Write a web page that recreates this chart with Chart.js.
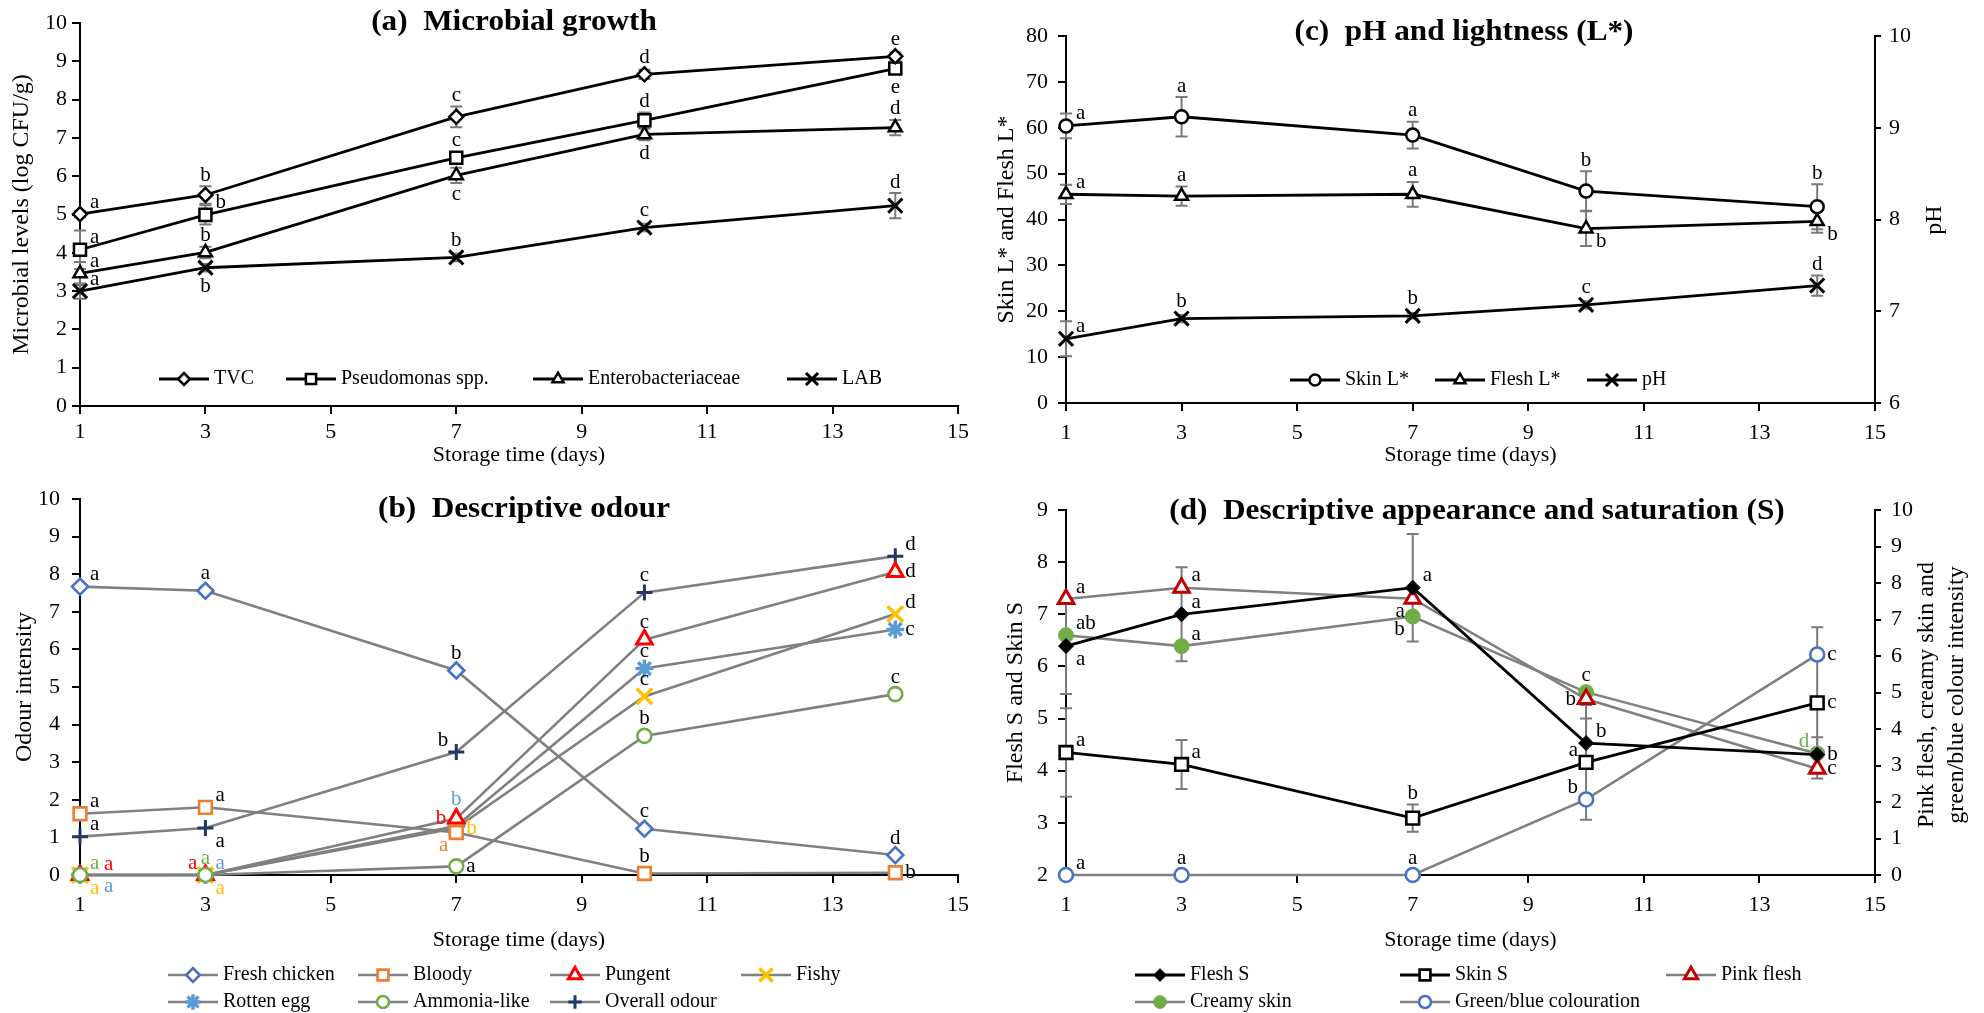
<!DOCTYPE html>
<html>
<head>
<meta charset="utf-8">
<title>Storage quality of chicken</title>
<script src="https://cdn.jsdelivr.net/npm/chart.js@4.4.1/dist/chart.umd.min.js"></script>
<style>
  html, body { margin:0; padding:0; background:#ffffff; }
  body { width:1984px; height:1013px; position:relative; overflow:hidden; }
  canvas { position:absolute; display:block; }
</style>
</head>
<body>
<canvas id="chartA" width="992" height="470" style="left:0;top:0"></canvas>
<canvas id="chartC" width="992" height="470" style="left:992px;top:0"></canvas>
<canvas id="chartB" width="992" height="543" style="left:0;top:470px"></canvas>
<canvas id="chartD" width="992" height="543" style="left:992px;top:470px"></canvas>
<script>
// ================= DATA =================
const days = [1, 3, 7, 10, 14];

// (a) Microbial growth (log CFU/g)
const tvc       = [5.01, 5.51, 7.55, 8.66, 9.13];
const tvcSd     = [0.08, 0.23, 0.27, 0.12, 0.10];
const tvcSig    = ['a', 'b', 'c', 'd', 'e'];
const pseudo    = [4.08, 4.99, 6.48, 7.46, 8.81];
const pseudoSd  = [0.50, 0.25, 0.15, 0.20, 0.12];
const pseudoSig = ['a', 'b', 'c', 'd', 'e'];
const entero    = [3.46, 4.01, 6.02, 7.09, 7.27];
const enteroSd  = [0.30, 0.15, 0.20, 0.15, 0.20];
const enteroSig = ['a', 'b', 'c', 'd', 'd'];
const lab       = [3.00, 3.61, 3.88, 4.66, 5.23];
const labSd     = [0.20, 0.10, 0.10, 0.10, 0.33];
const labSig    = ['a', 'b', 'b', 'c', 'd'];

// (c) pH and lightness
const skinL     = [60.4, 62.4, 58.4, 46.2, 42.8];
const skinLSd   = [2.7, 4.3, 2.9, 4.3, 4.9];
const skinLSig  = ['a', 'a', 'a', 'b', 'b'];
const fleshL    = [45.5, 45.1, 45.5, 38.0, 39.6];
const fleshLSd  = [2.1, 2.1, 2.7, 3.8, 2.5];
const fleshLSig = ['a', 'a', 'a', 'b', 'b'];
const ph        = [6.70, 6.92, 6.95, 7.07, 7.28];
const phSd      = [0.19, 0.04, 0.03, 0.04, 0.11];
const phSig     = ['a', 'b', 'b', 'c', 'd'];

// (b) Descriptive odour
const freshChicken = [7.67, 7.56, 5.44, 1.23, 0.53];
const freshSig     = ['a', 'a', 'b', 'c', 'd'];
const bloody       = [1.63, 1.80, 1.13, 0.04, 0.06];
const bloodySig    = ['a', 'a', 'a', 'b', 'b'];
const pungent      = [0, 0, 1.50, 6.26, 8.06];
const pungentSig   = ['a', 'a', 'b', 'c', 'd'];
const fishy        = [0, 0, 1.25, 4.75, 6.94];
const fishySig     = ['a', 'a', 'b', 'c', 'd'];
const rottenEgg    = [0, 0, 1.30, 5.49, 6.53];
const rottenSig    = ['a', 'a', 'b', 'c', 'c'];
const ammonia      = [0, 0, 0.23, 3.70, 4.81];
const ammoniaSig   = ['a', 'a', 'a', 'b', 'c'];
const overall      = [1.02, 1.25, 3.27, 7.51, 8.48];
const overallSig   = ['a', 'a', 'b', 'c', 'd'];

// (d) Descriptive appearance and saturation
const fleshS       = [6.39, 7.00, 7.51, 4.53, 4.31];
const fleshSSd     = [0.92, 0.90, 1.03, 0.47, 0.33];
const fleshSSig    = ['a', 'a', 'a', 'b', 'b'];
const skinS        = [4.35, 4.12, 3.09, 4.16, 5.30];
const skinSSd      = [0.85, 0.47, 0.26, 1.10, 1.45];
const skinSSig     = ['a', 'a', 'b', 'a', 'c'];
const pinkFlesh    = [7.56, 7.87, 7.57, 4.82, 2.91];
const pinkSig      = ['a', 'a', 'a', 'b', 'c'];
const creamySkin   = [6.57, 6.27, 7.08, 5.01, 3.33];
const creamySig    = ['ab', 'a', 'b', 'c', 'd'];
const greenBlue    = [0, 0, 0, 2.07, 6.04];
const greenBlueSig = ['a', 'a', 'a', 'b', 'c'];

// ================= STYLE / LAYOUT =================
const F = '"Liberation Serif","Times New Roman",serif';
Chart.defaults.font.family = F;
Chart.defaults.color = '#000';

const C_BLUE = '#4472C4', C_ORANGE = '#ED7D31', C_RED = '#FF0000', C_YELLOW = '#FFC000',
      C_LBLUE = '#5B9BD5', C_GREEN = '#70AD47', C_NAVY = '#203864', C_DRED = '#C00000',
      C_GREY = '#808080', C_ERR = '#7a7a7a';

// letter placement codes relative to the point
const OFF = {
  n:   {dx: 0,   dy: -17, a: 'center'},
  n2:  {dx: 0,   dy: -27, a: 'center'},
  s:   {dx: 0,   dy: 19,  a: 'center'},
  e:   {dx: 10,  dy: 0,   a: 'left'},
  w:   {dx: -10, dy: 0,   a: 'right'},
  ne:  {dx: 10,  dy: -12, a: 'left'},
  nw:  {dx: -8,  dy: -12, a: 'right'},
  se:  {dx: 10,  dy: 13,  a: 'left'},
  sw:  {dx: -8,  dy: 13,  a: 'right'},
  ne2: {dx: 24,  dy: -11, a: 'left'},
  se2: {dx: 24,  dy: 11,  a: 'left'}
};

const pts = arr => days.map((d, i) => ({x: d, y: arr[i]}));

function ds(label, values, st, extra) {
  return Object.assign({
    label: label, data: pts(values),
    borderColor: st.line, borderWidth: st.lw,
    pointStyle: st.ps, pointRadius: st.r, pointHoverRadius: st.r,
    pointBackgroundColor: st.fill, pointBorderColor: st.stroke, pointBorderWidth: st.pbw,
    tension: 0, clip: false, fill: false
  }, extra || {});
}

function myDrawPoint(ctx, o, x, y) {
  const r = o.radius;
  ctx.beginPath();
  switch (o.pointStyle) {
    case 'rectRot': ctx.moveTo(x - r, y); ctx.lineTo(x, y - r); ctx.lineTo(x + r, y); ctx.lineTo(x, y + r); ctx.closePath(); break;
    case 'rect': { const s = r * Math.SQRT1_2; ctx.rect(x - s, y - s, 2 * s, 2 * s); break; }
    case 'triangle': ctx.moveTo(x, y - r); ctx.lineTo(x + r * 0.866, y + r / 2); ctx.lineTo(x - r * 0.866, y + r / 2); ctx.closePath(); break;
    case 'crossRot': { const s = r * Math.SQRT1_2; ctx.moveTo(x - s, y - s); ctx.lineTo(x + s, y + s); ctx.moveTo(x - s, y + s); ctx.lineTo(x + s, y - s); break; }
    case 'cross': ctx.moveTo(x, y - r); ctx.lineTo(x, y + r); ctx.moveTo(x - r, y); ctx.lineTo(x + r, y); break;
    case 'star': { const s = r * Math.SQRT1_2; ctx.moveTo(x, y - r); ctx.lineTo(x, y + r); ctx.moveTo(x - r, y); ctx.lineTo(x + r, y);
      ctx.moveTo(x - s, y - s); ctx.lineTo(x + s, y + s); ctx.moveTo(x - s, y + s); ctx.lineTo(x + s, y - s); break; }
    default: ctx.arc(x, y, r, 0, Math.PI * 2);
  }
  ctx.fill();
  if (o.borderWidth > 0) ctx.stroke();
}
const drawPt = (Chart.helpers && Chart.helpers.drawPoint) ? Chart.helpers.drawPoint : myDrawPoint;

function makeDecor(cfg) {
  return {
    id: 'decor',
    beforeDatasetsDraw(chart) {
      const ctx = chart.ctx;
      chart.data.datasets.forEach((d, i) => {
        if (!d.sd) return;
        const meta = chart.getDatasetMeta(i);
        const ys = chart.scales[d.yAxisID || 'y'];
        ctx.save();
        ctx.strokeStyle = C_ERR; ctx.lineWidth = 2;
        meta.data.forEach((p, j) => {
          const e = d.sd[j]; if (!e) return;
          const v = d.data[j].y;
          const t = ys.getPixelForValue(v + e), b = ys.getPixelForValue(v - e);
          ctx.beginPath();
          ctx.moveTo(p.x, t); ctx.lineTo(p.x, b);
          ctx.moveTo(p.x - 6, t); ctx.lineTo(p.x + 6, t);
          ctx.moveTo(p.x - 6, b); ctx.lineTo(p.x + 6, b);
          ctx.stroke();
        });
        ctx.restore();
      });
    },
    afterDatasetsDraw(chart) {
      const ctx = chart.ctx;
      ctx.save();
      ctx.font = '21px ' + F;
      ctx.textBaseline = 'middle';
      chart.data.datasets.forEach((d, i) => {
        if (!d.sig) return;
        const meta = chart.getDatasetMeta(i);
        const ys = chart.scales[d.yAxisID || 'y'];
        meta.data.forEach((p, j) => {
          const code = d.sigPos[j];
          const o = OFF[code];
          let x = p.x + o.dx, y = p.y + o.dy;
          const e = d.sd ? d.sd[j] : 0;
          if (e && (code === 'n' || code === 'n2')) y = Math.min(y, ys.getPixelForValue(d.data[j].y + e) - 11);
          if (e && code === 's') y = Math.max(y, ys.getPixelForValue(d.data[j].y - e) + 11);
          ctx.textAlign = o.a;
          ctx.fillStyle = (d.sigColor && d.sigColor[j]) || '#000';
          ctx.fillText(d.sig[j], x, y);
        });
      });
      ctx.restore();
    },
    afterDraw(chart) {
      const ctx = chart.ctx;
      ctx.save();
      // panel title
      ctx.font = 'bold 30px ' + F;
      ctx.fillStyle = '#000';
      ctx.textAlign = 'center'; ctx.textBaseline = 'middle';
      ctx.translate(cfg.title.x, cfg.title.y);
      ctx.scale(1.04, 1);
      ctx.fillText(cfg.title.text, 0, 0);
      ctx.restore();
      // right axis title(s), reading bottom to top
      if (cfg.rightTitle) {
        cfg.rightTitle.lines.forEach((ln, k) => {
          ctx.save();
          ctx.font = '24px ' + F; ctx.fillStyle = '#000';
          ctx.textAlign = 'center'; ctx.textBaseline = 'middle';
          ctx.translate(cfg.rightTitle.x[k], cfg.rightTitle.y);
          ctx.rotate(-Math.PI / 2);
          ctx.fillText(ln, 0, 0);
          ctx.restore();
        });
      }
      // legend
      cfg.legend.forEach(it => {
        const d = chart.data.datasets[it.ds];
        ctx.save();
        ctx.strokeStyle = d.borderColor; ctx.lineWidth = d.borderWidth;
        ctx.beginPath(); ctx.moveTo(it.x - 25, it.y); ctx.lineTo(it.x + 25, it.y); ctx.stroke();
        ctx.fillStyle = d.pointBackgroundColor; ctx.strokeStyle = d.pointBorderColor; ctx.lineWidth = d.pointBorderWidth;
        drawPt(ctx, {pointStyle: d.pointStyle, radius: d.pointRadius * 0.85, rotation: 0, borderWidth: d.pointBorderWidth}, it.x, it.y);
        ctx.fillStyle = '#000'; ctx.font = '20px ' + F;
        ctx.textAlign = 'left'; ctx.textBaseline = 'middle';
        ctx.fillText(d.label, it.x + 30, it.y);
        ctx.restore();
      });
    }
  };
}

function xScale(h, pad) {
  return {
    type: 'linear', min: 1, max: 15,
    ticks: {stepSize: 2, font: {size: 22}, color: '#000', padding: pad, maxRotation: 0, autoSkip: false},
    grid: {display: true, drawOnChartArea: false, drawTicks: true, tickLength: 8, color: '#000', lineWidth: 2},
    border: {display: true, color: '#000', width: 2},
    title: {display: true, text: 'Storage time (days)', font: {size: 22}, color: '#000', padding: {top: 0, bottom: 2}},
    afterFit(s) { s.height = h; }
  };
}
function yScale(o) {
  return {
    type: 'linear', position: o.pos || 'left', min: o.min, max: o.max,
    ticks: {stepSize: o.step, font: {size: 22}, color: '#000', padding: o.pad, autoSkip: false},
    grid: {display: true, drawOnChartArea: false, drawTicks: true, tickLength: o.tl || 8, color: '#000', lineWidth: 2},
    border: {display: true, color: '#000', width: 2},
    title: {display: !!o.title, text: o.title || '', font: {size: 24}, color: '#000', padding: {top: 0, bottom: 0}},
    afterFit(s) { s.width = o.w; }
  };
}
function baseOptions(padding, scales) {
  return {
    responsive: false, animation: false, events: [],
    layout: {padding: padding},
    plugins: {legend: {display: false}, tooltip: {enabled: false}, title: {display: false}},
    scales: scales
  };
}

// ---------- (a) Microbial growth ----------
const blackOpen = (ps, r, pbw) => ({line: '#000', lw: 2.8, ps: ps, r: r, fill: '#fff', stroke: '#000', pbw: pbw || 2.5});
new Chart(document.getElementById('chartA'), {
  type: 'line',
  data: {datasets: [
    ds('TVC', tvc, blackOpen('rectRot', 7), {sd: tvcSd, sig: tvcSig, sigPos: ['ne', 'n', 'n', 'n', 'n']}),
    ds('Pseudomonas spp.', pseudo, blackOpen('rect', 8.5), {sd: pseudoSd, sig: pseudoSig, sigPos: ['ne', 'ne', 'n', 'n', 's']}),
    ds('Enterobacteriaceae', entero, blackOpen('triangle', 7.5), {sd: enteroSd, sig: enteroSig, sigPos: ['ne', 'n', 's', 's', 'n']}),
    ds('LAB', lab, blackOpen('crossRot', 10, 3), {sd: labSd, sig: labSig, sigPos: ['ne', 's', 'n', 'n', 'n']})
  ]},
  options: baseOptions({left: 7, right: 34, top: 23, bottom: 0}, {
    x: xScale(64, 5),
    y: yScale({min: 0, max: 10, step: 1, pad: 5, w: 73, title: 'Microbial levels (log CFU/g)'})
  }),
  plugins: [makeDecor({
    title: {text: '(a)  Microbial growth', x: 514, y: 22},
    legend: [{ds: 0, x: 184, y: 379}, {ds: 1, x: 311, y: 379}, {ds: 2, x: 558, y: 379}, {ds: 3, x: 812, y: 379}]
  })]
});

// ---------- (c) pH and lightness ----------
new Chart(document.getElementById('chartC'), {
  type: 'line',
  data: {datasets: [
    ds('Skin L*', skinL, blackOpen('circle', 6.5), {sd: skinLSd, sig: skinLSig, sigPos: ['ne', 'n', 'n', 'n', 'n']}),
    ds('Flesh L*', fleshL, blackOpen('triangle', 7.5), {sd: fleshLSd, sig: fleshLSig, sigPos: ['ne', 'n', 'n', 'se', 'se']}),
    ds('pH', ph, blackOpen('crossRot', 10, 3), {yAxisID: 'y2', sd: phSd, sig: phSig, sigPos: ['ne', 'n', 'n', 'n', 'n']})
  ]},
  options: baseOptions({left: 0, right: 0, top: 36, bottom: 0}, {
    x: xScale(67, 9),
    y: yScale({min: 0, max: 80, step: 10, pad: 10, w: 74, title: 'Skin L* and Flesh L*'}),
    y2: yScale({pos: 'right', min: 6, max: 10, step: 1, pad: 8, tl: 6, w: 109})
  }),
  plugins: [makeDecor({
    title: {text: '(c)  pH and lightness (L*)', x: 472, y: 32},
    rightTitle: {lines: ['pH'], x: [943], y: 220},
    legend: [{ds: 0, x: 323, y: 380}, {ds: 1, x: 468, y: 380}, {ds: 2, x: 620, y: 380}]
  })]
});

// ---------- (b) Descriptive odour ----------
const greyLine = (ps, r, col, fill, pbw) => ({line: C_GREY, lw: 2.6, ps: ps, r: r, fill: fill, stroke: col, pbw: pbw || 2.6});
new Chart(document.getElementById('chartB'), {
  type: 'line',
  data: {datasets: [
    ds('Fresh chicken', freshChicken, greyLine('rectRot', 8, C_BLUE, '#fff'),
       {sig: freshSig, sigPos: ['ne', 'n', 'n', 'n', 'n']}),
    ds('Bloody', bloody, greyLine('rect', 9, C_ORANGE, '#fff'),
       {sig: bloodySig, sigPos: ['ne', 'ne', 'sw', 'n', 'e'], sigColor: [null, null, C_ORANGE, null, null]}),
    ds('Pungent', pungent, greyLine('triangle', 9, C_RED, '#fff', 3),
       {sig: pungentSig, sigPos: ['ne2', 'nw', 'w', 'n', 'e'], sigColor: [C_RED, C_RED, C_RED, null, null]}),
    ds('Fishy', fishy, greyLine('crossRot', 11, C_YELLOW, '#fff', 3.5),
       {sig: fishySig, sigPos: ['se', 'se', 'e', 'n', 'ne'], sigColor: [C_YELLOW, C_YELLOW, C_YELLOW, null, null]}),
    ds('Rotten egg', rottenEgg, greyLine('star', 9, C_LBLUE, '#fff', 3.5),
       {sig: rottenSig, sigPos: ['se2', 'ne', 'n2', 'n', 'e'], sigColor: [C_LBLUE, C_LBLUE, C_LBLUE, null, null]}),
    ds('Ammonia-like', ammonia, greyLine('circle', 7, C_GREEN, '#fff', 2.6),
       {order: -1, sig: ammoniaSig, sigPos: ['ne', 'n', 'e', 'n', 'n'], sigColor: [C_GREEN, C_GREEN, null, null, null]}),
    ds('Overall odour', overall, greyLine('cross', 8, C_NAVY, '#fff', 3),
       {sig: overallSig, sigPos: ['ne', 'se', 'nw', 'n', 'ne']})
  ]},
  options: baseOptions({left: 10, right: 34, top: 29, bottom: 58}, {
    x: xScale(80, 9),
    y: yScale({min: 0, max: 10, step: 1, pad: 12, w: 70, title: 'Odour intensity'})
  }),
  plugins: [makeDecor({
    title: {text: '(b)  Descriptive odour', x: 524, y: 39},
    legend: [{ds: 0, x: 193, y: 505}, {ds: 1, x: 383, y: 505}, {ds: 2, x: 575, y: 505}, {ds: 3, x: 766, y: 505},
             {ds: 4, x: 193, y: 532}, {ds: 5, x: 383, y: 532}, {ds: 6, x: 575, y: 532}]
  })]
});

// ---------- (d) Descriptive appearance and saturation ----------
new Chart(document.getElementById('chartD'), {
  type: 'line',
  data: {datasets: [
    ds('Flesh S', fleshS, {line: '#000', lw: 2.8, ps: 'rectRot', r: 7.5, fill: '#000', stroke: '#000', pbw: 1},
       {sd: fleshSSd, sig: fleshSSig, sigPos: ['se', 'ne', 'ne', 'ne', 'e']}),
    ds('Skin S', skinS, {line: '#000', lw: 2.8, ps: 'rect', r: 9, fill: '#fff', stroke: '#000', pbw: 2.6},
       {sd: skinSSd, sig: skinSSig, sigPos: ['ne', 'ne', 'n', 'nw', 'e']}),
    ds('Pink flesh', pinkFlesh, {line: C_GREY, lw: 2.6, ps: 'triangle', r: 9, fill: '#fff', stroke: C_DRED, pbw: 3},
       {yAxisID: 'y2', sig: pinkSig, sigPos: ['ne', 'ne', 'sw', 'w', 'e']}),
    ds('Creamy skin', creamySkin, {line: C_GREY, lw: 2.6, ps: 'circle', r: 7.5, fill: C_GREEN, stroke: C_GREEN, pbw: 1},
       {yAxisID: 'y2', sig: creamySig, sigPos: ['ne', 'ne', 'sw', 'n', 'nw'], sigColor: [null, null, null, null, C_GREEN]}),
    ds('Green/blue colouration', greenBlue, {line: C_GREY, lw: 2.6, ps: 'circle', r: 7, fill: '#fff', stroke: C_BLUE, pbw: 2.6},
       {yAxisID: 'y2', sig: greenBlueSig, sigPos: ['ne', 'n', 'n', 'nw', 'e']})
  ]},
  options: baseOptions({left: 9, right: 0, top: 40, bottom: 58}, {
    x: xScale(80, 9),
    y: yScale({min: 2, max: 9, step: 1, pad: 10, w: 65, title: 'Flesh S and Skin S'}),
    y2: yScale({pos: 'right', min: 0, max: 10, step: 1, pad: 10, tl: 6, w: 109})
  }),
  plugins: [makeDecor({
    title: {text: '(d)  Descriptive appearance and saturation (S)', x: 485, y: 41},
    rightTitle: {lines: ['Pink flesh, creamy skin and', 'green/blue colour intensity'], x: [935, 965], y: 225},
    legend: [{ds: 0, x: 168, y: 505}, {ds: 1, x: 433, y: 505}, {ds: 2, x: 699, y: 505},
             {ds: 3, x: 168, y: 532}, {ds: 4, x: 433, y: 532}]
  })]
});
</script>
</body>
</html>
